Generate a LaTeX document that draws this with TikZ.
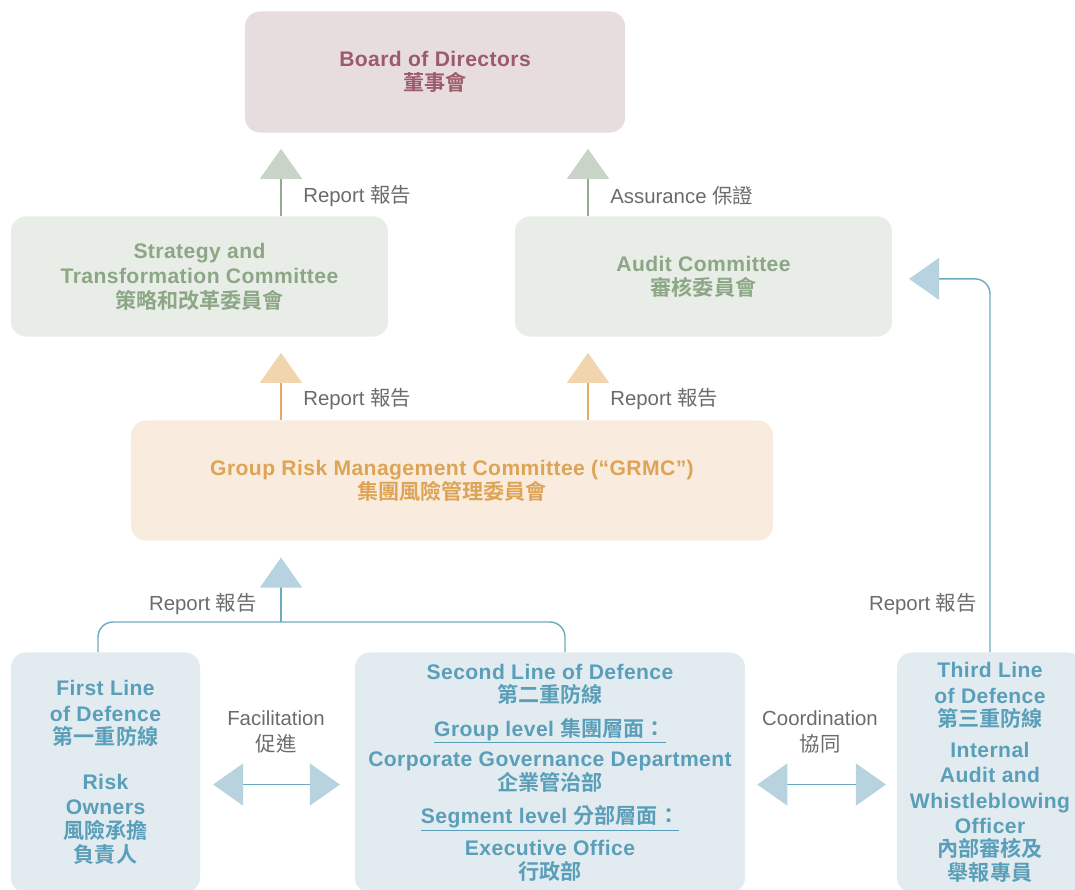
\documentclass[tikz,border=0pt]{standalone}
\usepackage{fontspec}
\setmainfont{Liberation Sans}
\newfontfamily\titlefont{Liberation Sans}[LetterSpace=2]
\newfontfamily\cjk{Noto Sans CJK TC}[BoldFont={Noto Sans CJK TC Bold}]
\newcommand{\zh}[1]{{\cjk #1}}
\usepackage{xcolor}
\usepackage{tikz}
\usetikzlibrary{arrows.meta}
\definecolor{boardFill}{HTML}{E8DDDE}
\definecolor{boardText}{HTML}{9C5B68}
\definecolor{greenFill}{HTML}{E8EDE7}
\definecolor{greenText}{HTML}{8CA785}
\definecolor{greenTri}{HTML}{C9D4C8}
\definecolor{greenLine}{HTML}{93AB8E}
\definecolor{orangeFill}{HTML}{F9ECDE}
\definecolor{orangeText}{HTML}{DDA455}
\definecolor{orangeTri}{HTML}{F1D5AF}
\definecolor{orangeLine}{HTML}{E3AC66}
\definecolor{blueFill}{HTML}{E2EBF0}
\definecolor{blueText}{HTML}{5A9FB9}
\definecolor{blueTri}{HTML}{B6D3DF}
\definecolor{blueLine}{HTML}{6DAAC1}
\definecolor{lblGray}{HTML}{6B6B6B}

\begin{document}
\begin{tikzpicture}[x=0.025cm, y=-0.025cm,
  box/.style={rounded corners=0.375cm, inner sep=0pt, align=center,
    font=\titlefont\bfseries\fontsize{15}{18}\selectfont},
  boardbox/.style={box, fill=boardFill, text=boardText, minimum width=9.5cm, minimum height=3.025cm},
  greenbox/.style={box, fill=greenFill, text=greenText, minimum width=9.425cm, minimum height=3cm},
  orangebox/.style={box, fill=orangeFill, text=orangeText, minimum width=16.05cm, minimum height=3cm},
  bluebox/.style={box, fill=blueFill, text=blueText, minimum height=6cm},
  lbl/.style={inner sep=0pt, text=lblGray, align=center, font=\fontsize{14.5}{19}\selectfont},
  greenarr/.style={draw=greenLine, line width=0.9pt, shorten >=0.4cm,
    -{Triangle[length=0.75cm,width=1.05cm,color=greenTri,fill=greenTri]}},
  orangearr/.style={draw=orangeLine, line width=0.9pt, shorten >=0.4cm,
    -{Triangle[length=0.75cm,width=1.05cm,color=orangeTri,fill=orangeTri]}},
  bluearr/.style={draw=blueLine, line width=1pt, shorten >=0.42cm,
    -{Triangle[length=0.75cm,width=1.05cm,color=blueTri,fill=blueTri]}},
  bluedbl/.style={draw=blueLine, line width=1pt,
    {Triangle[length=0.75cm,width=1.05cm,color=blueTri,fill=blueTri]}-{Triangle[length=0.75cm,width=1.05cm,color=blueTri,fill=blueTri]}},
  blueline/.style={draw=blueLine, line width=1pt, rounded corners=0.375cm}]
\useasboundingbox (0,0) rectangle (1075,889);
% Committees
\node[boardbox] (board) at (435,72) {Board of Directors\\[-1pt]\zh{董事會}};
\node[greenbox] (strat) at (199.5,276.5) {Strategy and\\Transformation Committee\\[-0.5pt]\zh{策略和改革委員會}};
\node[greenbox] (audit) at (703.5,276.5) {Audit Committee\\[-1pt]\zh{審核委員會}};
\node[orangebox] (grmc) at (452,480.5) {Group Risk Management Committee (“GRMC”)\\[-1pt]\zh{集團風險管理委員會}};
% Lines of defence
\node[bluebox, minimum width=4.725cm] (first) at (105.5,772.5)
  {First Line\\of Defence\\[-1.5pt]\zh{第一重防線}\\[14pt]Risk\\Owners\\[-1pt]\zh{風險承擔}\\[-1pt]\zh{負責人}};
\node[bluebox, minimum width=9.75cm] (second) at (550,772.5)
  {Second Line of Defence\\[-1.5pt]\zh{第二重防線}\\[6pt]\underline{Group level \zh{集團層面：}}\\[3.5pt]Corporate Governance Department\\[-1pt]\zh{企業管治部}\\[5.5pt]\underline{Segment level \zh{分部層面：}}\\[4.5pt]Executive Office\\[-1pt]\zh{行政部}};
\node[bluebox, minimum width=4.65cm] (third) at (990,772.5)
  {Third Line\\of Defence\\[-1.5pt]\zh{第三重防線}\\[4pt]Internal\\Audit and\\Whistleblowing\\Officer\\[-1.5pt]\zh{內部審核及}\\[-1pt]\zh{舉報專員}};
% Columns for the arrows
\coordinate (colL) at (281,0);
\coordinate (colR) at (588,0);
\coordinate (legL) at (98,0);
\coordinate (legR) at (565,0);
\coordinate (legT) at (990,0);
\coordinate (join) at (281,622);
% Reporting arrows
\draw[greenarr] (strat.north -| colL) -- (board.south -| colL);
\draw[greenarr] (audit.north -| colR) -- (board.south -| colR);
\draw[orangearr] (grmc.north -| colL) -- (strat.south -| colL);
\draw[orangearr] (grmc.north -| colR) -- (audit.south -| colR);
\draw[blueline] (first.north -| legL) |- (join) -| (second.north -| legR);
\draw[bluearr] (join) -- (grmc.south -| join);
\draw[bluearr, rounded corners=0.375cm] (third.north -| legT) |- ([yshift=-0.06cm]audit.east);
% Side arrows
\draw[bluedbl, shorten <=0.32cm, shorten >=0.37cm] ([yshift=-0.3cm]first.east) -- ([yshift=-0.3cm]second.west);
\draw[bluedbl, shorten <=0.3cm, shorten >=0.27cm] ([yshift=-0.3cm]second.east) -- ([yshift=-0.3cm]third.west);
% Labels
\node[lbl, anchor=west] (rep1) at (303,196) {Report \zh{報告}};
\node[lbl, anchor=west] (assure) at (610,196) {Assurance \zh{保證}};
\node[lbl, anchor=west] (rep2) at (303,399) {Report \zh{報告}};
\node[lbl, anchor=west] (rep3) at (610,399) {Report \zh{報告}};
\node[lbl, anchor=east] (rep4) at (257,604) {Report \zh{報告}};
\node[lbl, anchor=east] (rep5) at (977,604) {Report \zh{報告}};
\node[lbl] (facil) at (276,732) {Facilitation\\\zh{促進}};
\node[lbl] (coord) at (820,732) {Coordination\\\zh{協同}};
\end{tikzpicture}
\end{document}
